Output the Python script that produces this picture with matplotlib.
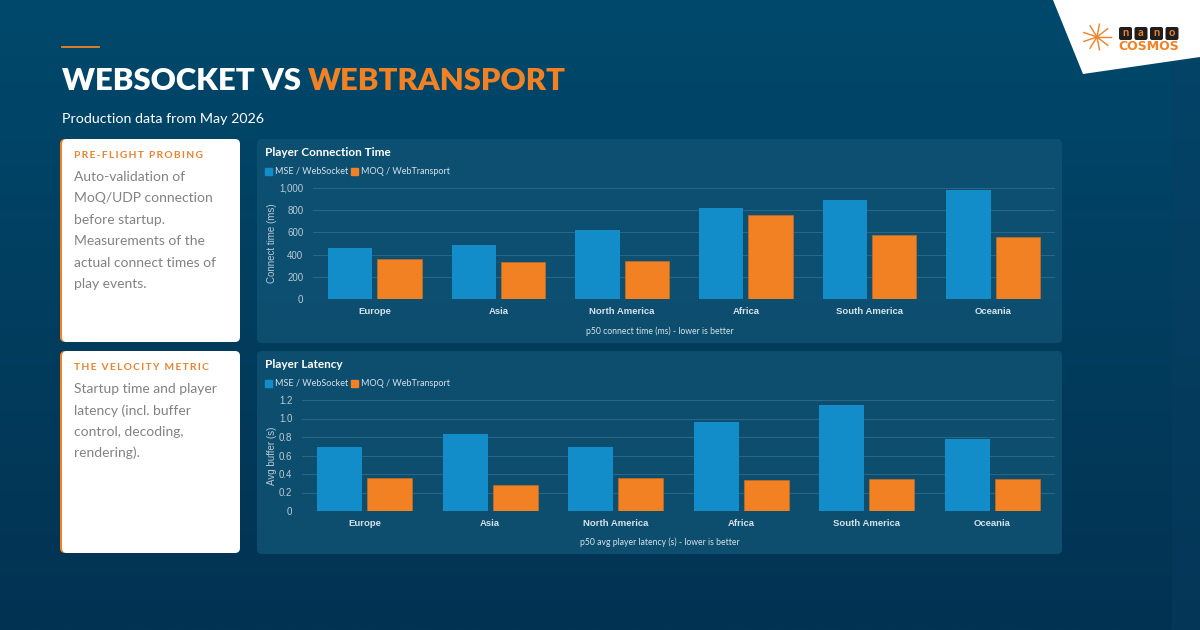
import numpy as np
import matplotlib.pyplot as plt
from matplotlib.patches import FancyBboxPatch, Rectangle, Polygon

# ---- data ----
regions = ["Europe", "Asia", "North America", "Africa", "South America", "Oceania"]
series_names = ["MSE / WebSocket", "MOQ / WebTransport"]
connect_ws = [456, 483, 618, 816, 895, 985]
connect_wt = [357, 330, 345, 757, 573, 559]
latency_ws = [0.69, 0.83, 0.69, 0.96, 1.15, 0.78]
latency_wt = [0.36, 0.28, 0.36, 0.33, 0.35, 0.35]
connect_ticks = [0, 200, 400, 600, 800, 1000]
connect_ticklabels = ["0", "200", "400", "600", "800", "1,000"]
latency_ticks = [0, 0.2, 0.4, 0.6, 0.8, 1.0, 1.2]
latency_ticklabels = ["0", "0.2", "0.4", "0.6", "0.8", "1.0", "1.2"]

BLUE = "#138cca"
ORANGE = "#f28123"
TICK_C = "#b9cad6"
GRID_C = "#2b6584"
PANEL_C = "#0f5172"
HEAD_FONT = ["Lato", "DejaVu Sans"]
TICK_FONT = ["Liberation Sans", "DejaVu Sans"]

W, H = 1200, 630
fig = plt.figure(figsize=(12, 6.3), dpi=100)

# background layer in pixel coordinates
bg = fig.add_axes([0, 0, 1, 1])
bg.set_xlim(0, W)
bg.set_ylim(H, 0)
bg.axis("off")
top = np.array([0, 73, 108]) / 255
bot = np.array([3, 50, 82]) / 255
t = np.linspace(0, 1, 256)[:, None]
grad = top * (1 - t[..., None]) + bot * t[..., None]
grad = np.repeat(grad, 2, axis=1)
bg.imshow(grad, extent=[0, W, H, 0], aspect="auto", zorder=0)
bg.add_patch(Rectangle((1172, 0), 28, H, color="#0a3f63", alpha=0.35, zorder=1))

# logo corner
bg.add_patch(Polygon([(1053, 0), (1200, 0), (1200, 57), (1083, 74)], closed=True,
                     facecolor="white", edgecolor="none", zorder=2))
for i, ch in enumerate("nano"):
    bg.add_patch(FancyBboxPatch((1119 + i * 15.5, 27), 13, 13,
                                boxstyle="round,pad=0,rounding_size=2",
                                fc="#1e1e1e", ec="none", zorder=3))
    bg.text(1125.5 + i * 15.5, 33, ch, color=ORANGE, fontsize=8, fontweight="bold",
            family=HEAD_FONT, ha="center", va="center", zorder=4)
bg.text(1149, 46.5, "COSMOS", color=ORANGE, fontsize=9, fontweight="bold",
        family=["DejaVu Sans"], ha="center", va="center", zorder=4)
for ang in np.linspace(0, 2 * np.pi, 10)[:-1]:
    bg.plot([1097, 1097 + 14 * np.cos(ang)], [37, 37 + 13 * np.sin(ang)],
            color=ORANGE, lw=1, zorder=3)

# header
bg.plot([62, 99], [47, 47], color=ORANGE, lw=1.3, zorder=3)
t1 = bg.text(62, 81, "WEBSOCKET VS ", color="white", fontsize=22.3, fontweight="heavy",
             family=HEAD_FONT, ha="left", va="center", zorder=3)
fig.canvas.draw()
x_end = bg.transData.inverted().transform((t1.get_window_extent().x1, 0))[0]
bg.text(x_end, 81, "WEBTRANSPORT", color=ORANGE, fontsize=22.3, fontweight="heavy",
        family=HEAD_FONT, ha="left", va="center", zorder=3)
bg.text(62, 119, "Production data from May 2026", color="white", fontsize=10.3,
        family=HEAD_FONT, ha="left", va="center", zorder=3)

# left cards
cards = [
    (139, 342, "PRE-FLIGHT PROBING",
     ["Auto-validation of", "MoQ/UDP connection", "before startup.",
      "Measurements of the", "actual connect times of", "play events."]),
    (351, 553, "THE VELOCITY METRIC",
     ["Startup time and player", "latency (incl. buffer", "control, decoding,",
      "rendering)."]),
]
for y0, y1, head, lines in cards:
    bg.add_patch(FancyBboxPatch((60, y0), 178, y1 - y0, boxstyle="round,pad=0,rounding_size=5",
                                fc=ORANGE, ec="none", zorder=2))
    bg.add_patch(FancyBboxPatch((62, y0), 178, y1 - y0, boxstyle="round,pad=0,rounding_size=5",
                                fc="white", ec="none", zorder=3))
    bg.text(74, y0 + 16, "\u2009".join(head), color="#e8832e", fontsize=7.4, fontweight="bold",
            family=HEAD_FONT, ha="left", va="center", zorder=4)
    for i, ln in enumerate(lines):
        bg.text(74, y0 + 38 + i * 21.4, ln, color="#828282", fontsize=10,
                family=HEAD_FONT, ha="left", va="center", zorder=4)

# chart panels
panels = [
    dict(y0=139, y1=343, title="Player Connection Time", ax_rect=(313, 188, 1055, 299),
         ws=connect_ws, wt=connect_wt, ticks=connect_ticks, ticklabels=connect_ticklabels,
         ylim=1000, ylabel="Connect time (ms)", xlabel="p50 connect time (ms) - lower is better"),
    dict(y0=351, y1=554, title="Player Latency", ax_rect=(302, 400, 1055, 511),
         ws=latency_ws, wt=latency_wt, ticks=latency_ticks, ticklabels=latency_ticklabels,
         ylim=1.2, ylabel="Avg buffer (s)", xlabel="p50 avg player latency (s) - lower is better"),
]
for p in panels:
    y0, y1 = p["y0"], p["y1"]
    bg.add_patch(FancyBboxPatch((257, y0), 805, y1 - y0, boxstyle="round,pad=0,rounding_size=5",
                                fc=PANEL_C, ec="none", alpha=0.9, zorder=2))
    bg.text(265, y0 + 14, p["title"], color="white", fontsize=8.5, fontweight="bold",
            family=HEAD_FONT, ha="left", va="center", zorder=4)
    ly = y0 + 32
    bg.add_patch(Rectangle((265, ly - 3.5), 7, 7, color=BLUE, zorder=4))
    bg.text(275, ly, series_names[0], color="#d6e2ea", fontsize=6.5, family=HEAD_FONT,
            ha="left", va="center", zorder=4)
    bg.add_patch(Rectangle((351, ly - 3.5), 7, 7, color=ORANGE, zorder=4))
    bg.text(361, ly, series_names[1], color="#d6e2ea", fontsize=6.5, family=HEAD_FONT,
            ha="left", va="center", zorder=4)
    bg.text(660, y1 - 12, p["xlabel"], color="#d6e2ea", fontsize=6.2, family=HEAD_FONT,
            ha="center", va="center", zorder=4)
    ax0, ay0, ax1, ay1 = p["ax_rect"]
    bg.text(272, (ay0 + ay1) / 2, p["ylabel"], color=TICK_C, fontsize=7,
            family=TICK_FONT, rotation=90, ha="center", va="center", zorder=4)

    ax = fig.add_axes([ax0 / W, 1 - ay1 / H, (ax1 - ax0) / W, (ay1 - ay0) / H])
    ax.set_facecolor("none")
    x = np.arange(len(regions))
    ax.bar(x - 0.2, p["ws"], width=0.36, color=BLUE, zorder=3)
    ax.bar(x + 0.2, p["wt"], width=0.36, color=ORANGE, edgecolor="#c96a1c", linewidth=0.5, zorder=3)
    ax.set_xlim(-0.5, len(regions) - 0.5)
    ax.set_ylim(0, p["ylim"])
    ax.set_yticks(p["ticks"])
    ax.set_yticklabels(p["ticklabels"])
    ax.set_xticks(x)
    ax.set_xticklabels(regions, fontweight="bold")
    ax.grid(axis="y", color=GRID_C, lw=0.8, zorder=0)
    for s in ax.spines.values():
        s.set_visible(False)
    ax.tick_params(axis="both", length=0, colors=TICK_C, labelsize=7)
    ax.tick_params(axis="x", pad=6, colors="#d6e2ea", labelsize=6.8)
    ax.tick_params(axis="y", pad=7)
    for lab in ax.get_xticklabels() + ax.get_yticklabels():
        lab.set_family(TICK_FONT)

fig.savefig("out.png", dpi=100)
